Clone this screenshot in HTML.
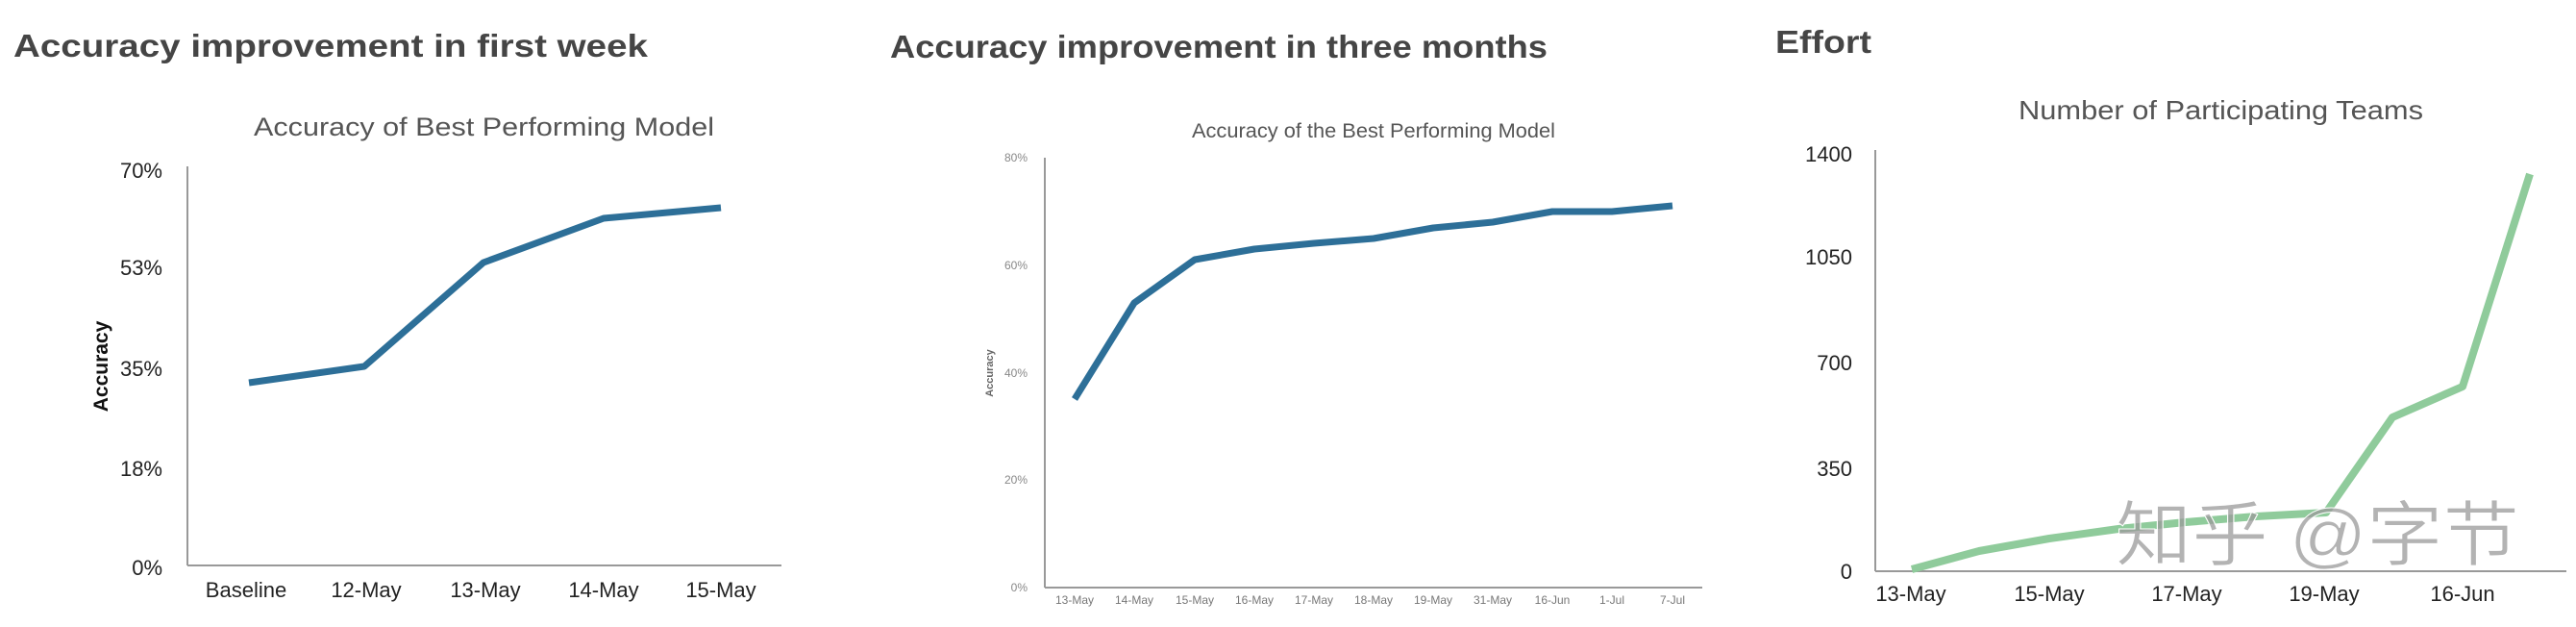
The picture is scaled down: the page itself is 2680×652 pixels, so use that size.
<!DOCTYPE html>
<html><head><meta charset="utf-8"><style>
html,body{margin:0;padding:0;background:#fff;}
svg{display:block;}
</style></head><body>
<svg width="2680" height="652" viewBox="0 0 2680 652" xmlns="http://www.w3.org/2000/svg" font-family="Liberation Sans, sans-serif">
<!-- Chart 1 -->
<text x="14" y="59" font-size="33" font-weight="bold" fill="#454545" textLength="660" lengthAdjust="spacingAndGlyphs">Accuracy improvement in first week</text>
<text x="264" y="141" font-size="27" fill="#555" textLength="479" lengthAdjust="spacingAndGlyphs">Accuracy of Best Performing Model</text>
<line x1="195" y1="173" x2="195" y2="588" stroke="#999" stroke-width="2"/>
<line x1="195" y1="588" x2="813" y2="588" stroke="#999" stroke-width="2"/>
<g font-size="22" fill="#222" text-anchor="end">
<text x="169" y="185">70%</text>
<text x="169" y="286">53%</text>
<text x="169" y="391">35%</text>
<text x="169" y="495">18%</text>
<text x="169" y="598">0%</text>
</g>
<text transform="translate(112,381) rotate(-90)" font-size="21" font-weight="bold" fill="#111" text-anchor="middle">Accuracy</text>
<g font-size="22" fill="#222" text-anchor="middle">
<text x="256" y="621">Baseline</text>
<text x="381" y="621">12-May</text>
<text x="505" y="621">13-May</text>
<text x="628" y="621">14-May</text>
<text x="750" y="621">15-May</text>
</g>
<polyline points="259,398 379,381 503,273 628,227 750,216" fill="none" stroke="#2d6f98" stroke-width="7" stroke-linejoin="round"/>

<!-- Chart 2 -->
<text x="926" y="60" font-size="33" font-weight="bold" fill="#454545" textLength="684" lengthAdjust="spacingAndGlyphs">Accuracy improvement in three months</text>
<text x="1240" y="143" font-size="21" fill="#555" textLength="378" lengthAdjust="spacingAndGlyphs">Accuracy of the Best Performing Model</text>
<line x1="1087" y1="164" x2="1087" y2="611" stroke="#999" stroke-width="2"/>
<line x1="1087" y1="611" x2="1771" y2="611" stroke="#999" stroke-width="2"/>
<g font-size="12" fill="#888" text-anchor="end">
<text x="1069" y="168">80%</text>
<text x="1069" y="280">60%</text>
<text x="1069" y="392">40%</text>
<text x="1069" y="503">20%</text>
<text x="1069" y="615">0%</text>
</g>
<text transform="translate(1033,388) rotate(-90)" font-size="11" font-weight="bold" fill="#666" text-anchor="middle">Accuracy</text>
<g font-size="12" fill="#777" text-anchor="middle">
<text x="1118" y="628">13-May</text>
<text x="1180" y="628">14-May</text>
<text x="1243" y="628">15-May</text>
<text x="1305" y="628">16-May</text>
<text x="1367" y="628">17-May</text>
<text x="1429" y="628">18-May</text>
<text x="1491" y="628">19-May</text>
<text x="1553" y="628">31-May</text>
<text x="1615" y="628">16-Jun</text>
<text x="1677" y="628">1-Jul</text>
<text x="1740" y="628">7-Jul</text>
</g>
<polyline points="1118,415 1180,315 1243,270 1305,259 1367,253 1429,248 1491,237 1553,231 1615,220 1677,220 1740,214" fill="none" stroke="#2d6f98" stroke-width="7" stroke-linejoin="round"/>

<!-- Chart 3 -->
<text x="1847" y="55" font-size="33" font-weight="bold" fill="#454545" textLength="100" lengthAdjust="spacingAndGlyphs">Effort</text>
<text x="2100" y="124" font-size="28" fill="#555" textLength="421" lengthAdjust="spacingAndGlyphs">Number of Participating Teams</text>
<line x1="1951" y1="156" x2="1951" y2="594" stroke="#999" stroke-width="2"/>
<line x1="1951" y1="594" x2="2670" y2="594" stroke="#999" stroke-width="2"/>
<g font-size="22" fill="#222" text-anchor="end">
<text x="1927" y="168">1400</text>
<text x="1927" y="275">1050</text>
<text x="1927" y="385">700</text>
<text x="1927" y="495">350</text>
<text x="1927" y="602">0</text>
</g>
<g font-size="22" fill="#222" text-anchor="middle">
<text x="1988" y="625">13-May</text>
<text x="2132" y="625">15-May</text>
<text x="2275" y="625">17-May</text>
<text x="2418" y="625">19-May</text>
<text x="2562" y="625">16-Jun</text>
</g>
<polyline points="1989,592 2059,573 2132,560 2204,550 2274,543 2347,537 2420,533 2489,434 2562,402 2632,181" fill="none" stroke="#8fcb9b" stroke-width="8" stroke-linejoin="round"/>
<text x="2201" y="582" font-size="74" fill="#9a9a9a" fill-opacity="0.75" stroke="#fff" stroke-width="1" font-family="Liberation Sans, Noto Sans CJK SC, sans-serif" textLength="420" lengthAdjust="spacingAndGlyphs">知乎 @字节</text>
</svg>
</body></html>
